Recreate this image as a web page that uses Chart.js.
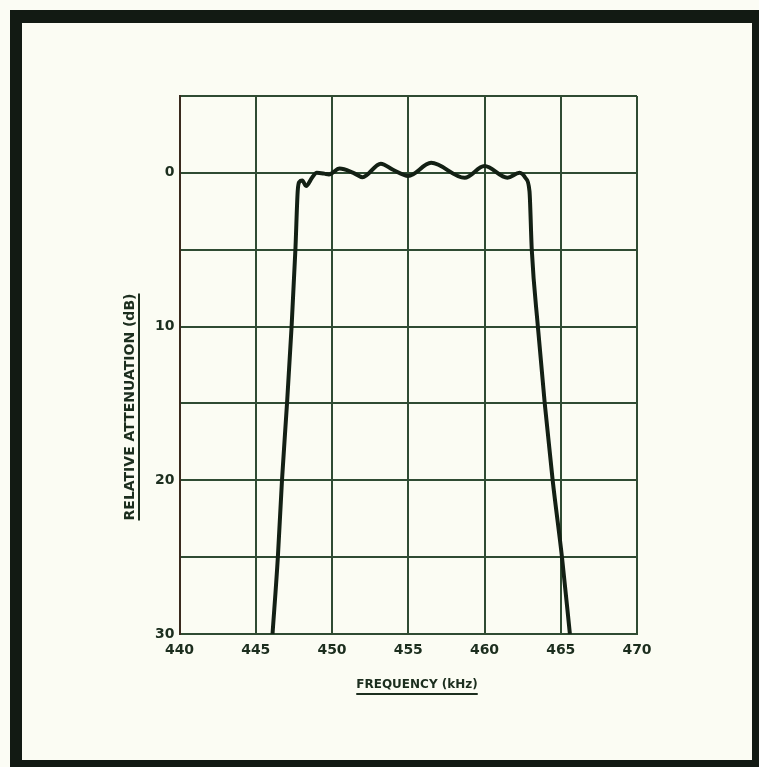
<!DOCTYPE html>
<html lang="en">
<head>
    <meta charset="UTF-8">
    <title>Relative Attenuation vs Frequency</title>
    <script src="https://cdn.jsdelivr.net/npm/chart.js"></script>
    <style>
        html, body {
            margin: 0;
            padding: 0;
            background-color: #fbfcf4;
        }
        .frame {
            position: absolute;
            left: 10px;
            top: 10px;
            width: 749px;
            height: 757px;
            background-color: #121a13;
        }
        .panel {
            position: absolute;
            left: 22px;
            top: 23px;
            width: 730px;
            height: 737px;
            background-color: #fbfcf3;
        }
        #responseChart {
            position: absolute;
            left: 0;
            top: 0;
        }
    </style>
</head>
<body>

    <div class="frame"></div>
    <div class="panel">
        <canvas id="responseChart" width="730" height="737"></canvas>
    </div>

    <script>
        // Filter passband response: frequency (kHz) against relative attenuation (dB)
        const freqKHz = [
            446.1, 446.45, 446.72, 447.05, 447.35, 447.6, 447.75, 447.85,
            448.05, 448.3, 448.7, 449.0, 449.5, 449.8, 450.5, 451.4,
            452.0, 453.2, 454.0, 455.0, 456.5, 458.7, 460.0, 461.5,
            462.3, 462.7, 462.95, 463.1, 463.5, 463.95, 464.47, 465.08, 465.6
        ];
        const attenuationDb = [
            30, 25, 20, 15, 10, 5, 1.2, 0.6,
            0.5, 0.85, 0.3, 0.0, 0.05, 0.1, -0.28, 0.0,
            0.28, -0.6, -0.2, 0.2, -0.65, 0.32, -0.44, 0.32,
            0.0, 0.35, 1.2, 5, 10, 15, 20, 25, 30
        ];
        const xTicks = [440, 445, 450, 455, 460, 465, 470];
        const yLabelled = [0, 10, 20, 30];

        const ink = '#1c2e1e';
        const gridColor = '#2f4b32';
        const labelFont = { family: 'DejaVu Sans', size: 14, weight: 'bold' };

        // axis captions are underlined, so they are drawn here rather than by the scales
        const underlinedTitles = {
            id: 'underlinedTitles',
            afterDraw(chart) {
                const ctx = chart.ctx;
                ctx.save();
                ctx.fillStyle = ink;
                ctx.strokeStyle = ink;
                ctx.lineWidth = 2;

                // y caption, rotated
                ctx.font = 'bold 14px "DejaVu Sans"';
                ctx.textAlign = 'center';
                ctx.textBaseline = 'middle';
                const yText = 'RELATIVE ATTENUATION (dB)';
                const yw = ctx.measureText(yText).width;
                ctx.translate(108, 384);
                ctx.rotate(-Math.PI / 2);
                ctx.fillText(yText, 0, 0);
                ctx.beginPath();
                ctx.moveTo(-yw / 2, 9);
                ctx.lineTo(yw / 2, 9);
                ctx.stroke();
                ctx.setTransform(1, 0, 0, 1, 0, 0);

                // x caption
                ctx.font = 'bold 12px "DejaVu Sans"';
                const xText = 'FREQUENCY (kHz)';
                const xw = ctx.measureText(xText).width;
                ctx.fillText(xText, 395, 662);
                ctx.beginPath();
                ctx.moveTo(395 - xw / 2, 671);
                ctx.lineTo(395 + xw / 2, 671);
                ctx.stroke();
                ctx.restore();
            }
        };

        const ctx = document.getElementById('responseChart').getContext('2d');
        const responseChart = new Chart(ctx, {
            type: 'line',
            data: {
                datasets: [{
                    data: freqKHz.map((f, i) => ({ x: f, y: attenuationDb[i] })),
                    borderColor: '#132014',
                    borderWidth: 4,
                    pointRadius: 0,
                    cubicInterpolationMode: 'monotone',
                    fill: false
                }]
            },
            options: {
                responsive: false,
                animation: false,
                devicePixelRatio: 1,
                layout: {
                    padding: { left: 60, top: 73, right: 115, bottom: 40 }
                },
                plugins: {
                    legend: { display: false },
                    tooltip: { enabled: false }
                },
                scales: {
                    x: {
                        type: 'linear',
                        min: 440,
                        max: 470,
                        afterFit(scale) { scale.height = 86; },
                        afterBuildTicks(scale) {
                            scale.ticks = xTicks.map(v => ({ value: v }));
                        },
                        ticks: {
                            color: ink,
                            font: labelFont,
                            padding: 8,
                            maxRotation: 0
                        },
                        grid: {
                            color: gridColor,
                            lineWidth: 2,
                            drawTicks: false
                        },
                        border: { color: gridColor, width: 2 }
                    },
                    y: {
                        type: 'linear',
                        min: -5,
                        max: 30,
                        reverse: true,
                        afterFit(scale) { scale.width = 97.5; },
                        ticks: {
                            stepSize: 5,
                            color: ink,
                            font: labelFont,
                            padding: 5,
                            callback: v => yLabelled.includes(v) ? String(v) : ''
                        },
                        grid: {
                            color: gridColor,
                            lineWidth: 2,
                            drawTicks: false
                        },
                        border: { color: '#3a2a1e', width: 2 }
                    }
                }
            },
            plugins: [underlinedTitles]
        });
    </script>

</body>
</html>
